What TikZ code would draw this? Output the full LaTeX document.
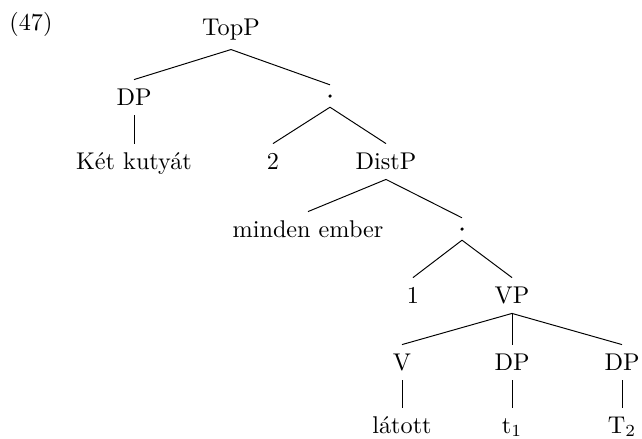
\documentclass[tikz,border=0pt]{standalone}
\begin{document}
\begin{tikzpicture}[x=0.413pt,y=-0.413pt,
  lbl/.style={anchor=base,inner xsep=0pt,inner ysep=0pt,text height=10.3pt,text depth=4.1pt},
  toplbl/.style={lbl,text depth=5.8pt},
  plain/.style={anchor=base,inner sep=0pt},
  dotnode/.style={circle,fill=black,minimum size=1.45pt,inner sep=0pt,outer sep=3.9pt},
  branch/.style={draw=black,line width=0.4pt}]
\useasboundingbox (0,0) rectangle (642,438);
\node[plain] (ex) at (31,30) {(47)};
\node[toplbl] (top) at (231,35) {TopP};
\node[lbl] (dpa) at (134,105) {DP};
\node[dotnode] (da) at (330,96) {};
\node[lbl] (ket) at (134,169) {Két kutyát};
\node[lbl] (two) at (273,169) {2};
\node[lbl] (dist) at (386,169) {DistP};
\node[lbl] (minden) at (308,237) {minden ember};
\node[dotnode] (db) at (462,229) {};
\node[lbl] (one) at (413,303) {1};
\node[lbl] (vp) at (512,303) {VP};
\node[lbl] (v) at (402,370) {V};
\node[lbl] (dpb) at (512,370) {DP};
\node[lbl] (dpc) at (622,370) {DP};
\node[lbl] (latott) at (402,433) {látott};
\node[lbl] (ta) at (512,433) {t$_1$};
\node[lbl] (tb) at (622,433) {T$_2$};
\draw[branch] (top.south) -- (dpa.north);
\draw[branch] (top.south) -- (da.north);
\draw[branch] (dpa.south) -- (ket.north);
\draw[branch] (da.south) -- (two.north);
\draw[branch] (da.south) -- (dist.north);
\draw[branch] (dist.south) -- (minden.north);
\draw[branch] (dist.south) -- (db.north);
\draw[branch] (db.south) -- (one.north);
\draw[branch] (db.south) -- (vp.north);
\draw[branch] (vp.south) -- (v.north);
\draw[branch] (vp.south) -- (dpb.north);
\draw[branch] (vp.south) -- (dpc.north);
\draw[branch] (v.south) -- (latott.north);
\draw[branch] (dpb.south) -- (ta.north);
\draw[branch] (dpc.south) -- (tb.north);
\end{tikzpicture}
\end{document}
